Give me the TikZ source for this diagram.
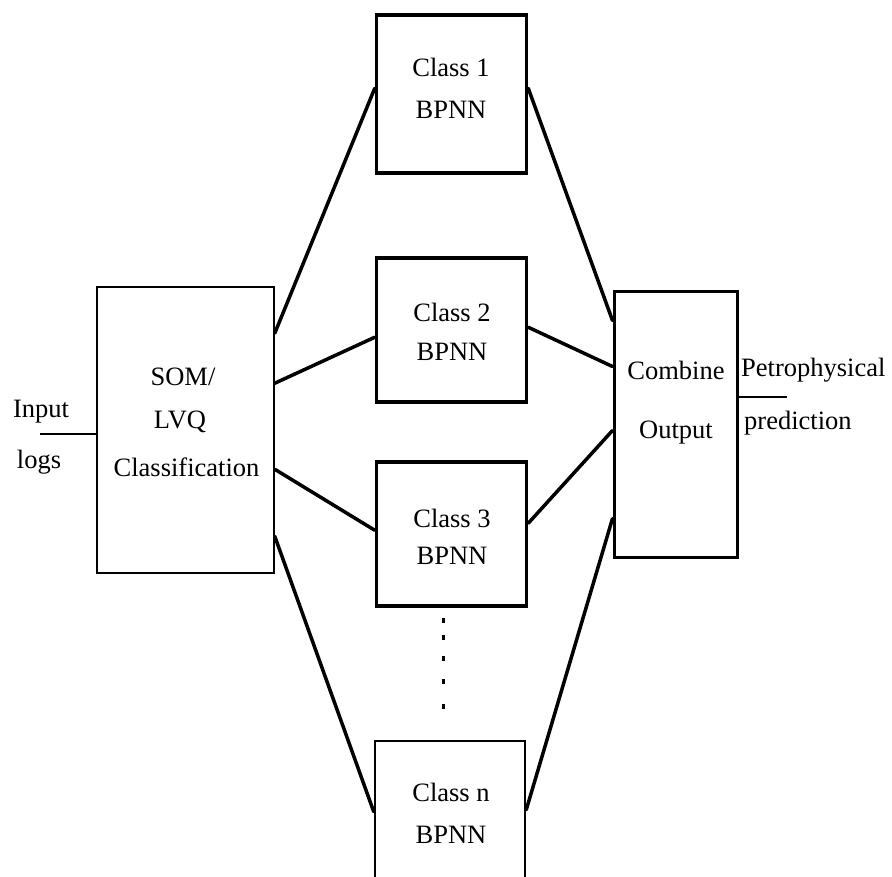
\documentclass[tikz,border=0pt]{standalone}
\usepackage{fontspec}
\setmainfont{Liberation Serif}
\usetikzlibrary{calc}
\begin{document}
\begin{tikzpicture}[x=1pt,y=-1pt,
  box/.style={draw,line width=3.5pt,rectangle,inner sep=0pt,minimum width=150pt},
  thinbox/.style={draw,line width=1.5pt,rectangle,inner sep=0pt},
  lbl/.style={inner sep=0pt,font=\fontsize{26.5}{30}\selectfont},
  link/.style={line width=3.5pt,line cap=round},
  lead/.style={line width=1.5pt}]
\clip (0,0) rectangle (892,876);
\fill[white] (0,0) rectangle (892,876);
% boxes
\node[thinbox,minimum width=177pt,minimum height=286pt] (som) at (185.5,430) {};
\node[box,minimum height=158pt] (c1) at (451.5,94) {};
\node[box,minimum height=144pt] (c2) at (451.5,330) {};
\node[box,minimum height=144pt] (c3) at (451.5,534) {};
\node[box,line width=2.5pt,minimum height=150pt] (cn) at (450,816) {};
\node[draw,line width=3pt,rectangle,inner sep=0pt,minimum width=123pt,minimum height=266pt] (comb) at (675.5,424) {};
% texts
\node[lbl] (t1) at (183,377) {SOM/};
\node[lbl] (t2) at (180,422) {LVQ};
\node[lbl] (t3) at (186.5,467) {Classification};
\node[lbl] (c1a) at (451,67) {Class 1};
\node[lbl] (c1b) at (451,110) {BPNN};
\node[lbl] (c2a) at (452,312) {Class 2};
\node[lbl] (c2b) at (452,352) {BPNN};
\node[lbl] (c3a) at (452,518) {Class 3};
\node[lbl] (c3b) at (452,556) {BPNN};
\node[lbl] (cna) at (451,792) {Class n};
\node[lbl] (cnb) at (451,835) {BPNN};
\node[lbl] (o1) at (676,370) {Combine};
\node[lbl] (o2) at (676,433) {Output};
\node[lbl] (inA) at (41,412) {Input};
\node[lbl] (inB) at (39,462) {logs};
\node[lbl,anchor=west] (pA) at (741,370) {Petrophysical};
\node[lbl,anchor=west] (pB) at (744,423) {prediction};
% input / output leads
\coordinate (in) at (40,434);
\draw[lead] (in) -- (in -| som.west);
\coordinate (out) at (787,397);
\draw[lead] (out -| comb.east) -- (out);
% connectors
\draw[link] ($(som.north east)+(0,47)$) -- ($(c1.north west)+(0,75)$);
\draw[link] ($(som.north east)+(0,97)$) -- ($(c2.north west)+(0,81)$);
\draw[link] ($(som.north east)+(0,183)$) -- ($(c3.north west)+(0,70)$);
\draw[link] ($(som.north east)+(0,250)$) -- ($(cn.north west)+(0,72)$);
\draw[link] ($(c1.north east)+(0,75)$) -- ($(comb.north west)+(0,31)$);
\draw[link] ($(c2.north east)+(0,71)$) -- ($(comb.north west)+(0,77)$);
\draw[link] ($(c3.north east)+(0,63)$) -- ($(comb.north west)+(0,141)$);
\draw[link] ($(cn.north east)+(0,70)$) -- ($(comb.north west)+(0,229)$);
% dots
\foreach \yy in {620,637,658,681,706}
  \fill (441.5,\yy-2.5) rectangle (444.5,\yy+2.5);
\end{tikzpicture}
\end{document}
